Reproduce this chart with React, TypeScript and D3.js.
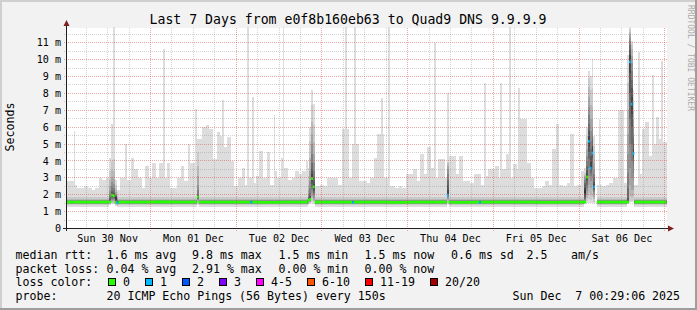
import React from 'react';
import * as d3 from 'd3';

const START = new Date(2025, 10, 30, 0, 29, 6);
const END = new Date(2025, 11, 7, 0, 29, 6);

const yTickValues = [0, 1, 2, 3, 4, 5, 6, 7, 8, 9, 10, 11];
const yTickLabels = ['0', '1 m', '2 m', '3 m', '4 m', '5 m', '6 m', '7 m', '8 m', '9 m', '10 m', '11 m'];
const dayLabels = ['Sun 30 Nov', 'Mon 01 Dec', 'Tue 02 Dec', 'Wed 03 Dec', 'Thu 04 Dec', 'Fri 05 Dec', 'Sat 06 Dec'];
const dayNoons = [
  new Date(2025, 10, 30, 12), new Date(2025, 11, 1, 12), new Date(2025, 11, 2, 12), new Date(2025, 11, 3, 12),
  new Date(2025, 11, 4, 12), new Date(2025, 11, 5, 12), new Date(2025, 11, 6, 12),
];

// hourly maximum ping (top of smoke), ms, hour 0 = start of graph
const hourlyMaxRtt = [
  2.8, 2.8, 2.6, 2.4, 2.4, 2.5, 2.4, 2.3, 2.4, 3.0,
  2.9, 3.0, 4.2, 2.6, 2.3, 3.0, 3.0, 2.9, 4.2, 3.5,
  3.0, 2.4, 3.7, 3.0, 3.9, 3.0, 3.9, 3.0, 3.9, 2.4,
  2.4, 3.0, 3.7, 2.8, 3.9, 3.9, 3.0, 5.3, 6.0, 6.1,
  5.9, 4.1, 5.7, 5.5, 4.8, 5.4, 4.0, 2.5, 3.0, 3.6,
  2.6, 3.0, 2.7, 3.1, 4.6, 3.0, 4.5, 2.6, 3.4, 3.0,
  4.2, 3.6, 2.9, 3.0, 3.4, 3.2, 3.4, 4.0, 3.0, 2.5,
  2.5, 2.6, 2.5, 3.0, 3.0, 3.0, 2.6, 5.9, 5.9, 3.0,
  5.0, 5.0, 2.8, 2.8, 2.7, 3.0, 4.2, 5.6, 5.6, 3.0,
  2.5, 2.5, 2.4, 2.5, 2.4, 3.2, 3.2, 3.5, 2.8, 4.4,
  3.2, 4.8, 3.6, 3.0, 4.1, 4.1, 3.0, 4.3, 4.3, 3.2,
  4.3, 2.8, 2.8, 2.7, 3.2, 3.2, 2.6, 3.1, 3.5, 3.5,
  3.7, 3.0, 3.5, 4.4, 3.0, 3.8, 3.5, 6.5, 6.5, 3.9,
  3.0, 2.4, 2.4, 2.5, 2.8, 2.6, 4.7, 6.2, 2.6, 2.5,
  2.7, 5.6, 2.5, 2.6, 3.4, 3.2, 3.0, 3.0, 2.6, 2.6,
  2.5, 2.6, 2.7, 3.0, 3.0, 7.0, 2.7, 3.0, 3.0, 2.6,
  3.2, 5.9, 6.3, 4.3, 5.0, 6.6, 5.3, 5.1,
];

// short single-sample spikes: hour of sample, max rtt (ms)
const spikeHours = [2.3, 16.5, 27.2, 34.2, 36.3, 43.9, 50.9, 52.3, 58.2, 60.8, 78.1, 80.9, 88.4, 90.2, 103.3, 117.2, 121.7, 124.3, 126.8, 149.3, 154.8, 155.8, 160.4, 164.3, 166.8];
const spikeRtt = [5.8, 5.0, 10.6, 5.0, 7.1, 7.6, 11.9, 7.8, 6.7, 11.9, 11.9, 11.9, 7.7, 11.9, 11.0, 8.6, 8.6, 11.9, 8.3, 6.5, 7.0, 7.0, 10.45, 9.1, 9.9];

// sorted pings 1..19 of a quiet half hour (ms)
const typicalPings = [1.30, 1.38, 1.43, 1.46, 1.48, 1.50, 1.52, 1.53, 1.54, 1.56, 1.57, 1.58, 1.60, 1.62, 1.64, 1.67, 1.71, 1.76, 1.85];

// median per 6 hours (ms)
const sixHourMedian = [
  1.56, 1.56, 1.56, 1.56, 1.57, 1.56, 1.56, 1.56, 1.56, 1.55, 1.56, 1.56, 1.56, 1.56,
  1.56, 1.55, 1.56, 1.56, 1.55, 1.56, 1.56, 1.56, 1.55, 1.56, 1.56, 1.56, 1.56, 1.56,
];

// isolated loss samples
const lossHours = [51.5, 80.0, 115.5];
const lossMedian = [1.53, 1.53, 1.53];
const lossCount = [1, 1, 1];

// disturbed half hours: sorted 20 pings, median, loss
const eventHours = [12.0, 12.5, 13.0, 13.5, 14.0, 36.5, 67.5, 68.0, 68.5, 69.0, 106.5, 145.0, 145.5, 146.0, 146.5, 147.0, 147.5, 157.0, 157.5, 158.0, 158.5];
const eventMedian = [1.58, 1.97, 1.95, 1.55, 1.52, 1.87, 1.67, 1.72, 2.96, 2.46, 1.97, 1.56, 3.05, 5.16, 3.59, 4.47, 2.46, 1.56, 9.86, 7.36, 4.43];
const eventLoss = [0, 0, 0, 0, 1, 0, 0, 0, 0, 0, 1, 0, 0, 1, 1, 1, 1, 0, 1, 1, 1];
const eventPings = [
  [1.40, 1.45, 1.48, 1.50, 1.52, 1.54, 1.56, 1.57, 1.58, 1.58, 1.60, 1.65, 1.72, 1.85, 2.0, 2.2, 2.5, 2.9, 3.4, 4.2],
  [1.45, 1.50, 1.56, 1.62, 1.68, 1.74, 1.80, 1.86, 1.91, 1.96, 1.99, 2.05, 2.15, 2.30, 2.50, 2.75, 3.05, 3.45, 4.0, 6.2],
  [1.45, 1.50, 1.55, 1.60, 1.66, 1.72, 1.78, 1.84, 1.90, 1.94, 1.97, 2.02, 2.10, 2.22, 2.40, 2.65, 2.95, 3.40, 4.10, 11.9],
  [1.35, 1.42, 1.46, 1.49, 1.52, 1.55, 1.58, 1.62, 1.68, 1.75, 1.82, 1.88, 1.92, 1.95, 1.98, 2.05, 2.15, 2.35, 2.6, 2.9],
  [1.30, 1.36, 1.41, 1.44, 1.46, 1.48, 1.50, 1.51, 1.52, 1.53, 1.55, 1.57, 1.60, 1.63, 1.67, 1.72, 1.80, 1.92, 2.15, 2.3],
  [1.42, 1.48, 1.54, 1.60, 1.66, 1.72, 1.77, 1.81, 1.84, 1.86, 1.88, 1.91, 1.96, 2.05, 2.25, 2.6, 3.1, 3.7, 4.5, 5.3],
  [1.40, 1.46, 1.50, 1.53, 1.56, 1.59, 1.61, 1.63, 1.65, 1.67, 1.68, 1.71, 1.75, 1.82, 1.92, 2.05, 2.25, 2.6, 3.1, 3.6],
  [1.45, 1.50, 1.54, 1.58, 1.62, 1.65, 1.68, 1.70, 1.71, 1.72, 1.74, 1.80, 1.90, 2.1, 2.4, 2.8, 3.4, 4.2, 5.2, 6.0],
  [1.50, 1.62, 1.78, 1.95, 2.12, 2.30, 2.48, 2.66, 2.82, 2.94, 3.02, 3.20, 3.50, 3.90, 4.40, 5.0, 5.6, 6.3, 7.3, 8.2],
  [1.48, 1.54, 1.60, 1.70, 1.82, 1.96, 2.10, 2.24, 2.36, 2.45, 2.50, 2.62, 2.80, 3.05, 3.40, 3.85, 4.40, 5.10, 6.1, 7.4],
  [1.42, 1.50, 1.60, 1.70, 1.78, 1.85, 1.90, 1.93, 1.95, 1.96, 2.0, 2.3, 2.6, 2.9, 3.2, 3.5, 3.7, 3.85, 3.94, 8.0],
  [1.45, 1.50, 1.53, 1.56, 1.60, 1.66, 1.74, 1.84, 1.96, 2.10, 2.26, 2.42, 2.58, 2.72, 2.86, 2.98, 3.08, 3.15, 3.3, 3.6],
  [1.50, 1.62, 1.80, 2.00, 2.20, 2.40, 2.60, 2.80, 2.95, 3.05, 3.12, 3.25, 3.45, 3.70, 4.00, 4.30, 4.70, 5.10, 5.5, 6.0],
  [1.52, 1.75, 2.10, 2.60, 3.10, 3.60, 4.10, 4.55, 4.90, 5.15, 5.25, 5.50, 5.80, 6.20, 6.70, 7.20, 7.80, 8.40, 8.9, 9.3],
  [1.52, 1.70, 2.00, 2.40, 2.80, 3.10, 3.30, 3.45, 3.55, 3.60, 3.70, 3.95, 4.30, 4.70, 5.20, 5.80, 6.50, 7.30, 8.2, 9.0],
  [1.52, 1.80, 2.20, 2.60, 3.00, 3.50, 3.90, 4.20, 4.40, 4.48, 4.60, 4.80, 5.00, 5.30, 5.60, 6.00, 6.50, 7.20, 8.3, 10.06],
  [1.50, 1.58, 1.72, 1.88, 2.02, 2.14, 2.26, 2.36, 2.42, 2.46, 2.52, 2.62, 2.78, 2.98, 3.20, 3.50, 3.90, 4.40, 4.9, 5.5],
  [1.45, 1.48, 1.50, 1.52, 1.53, 1.54, 1.55, 1.55, 1.56, 1.56, 1.58, 1.62, 1.80, 2.4, 3.3, 4.4, 5.6, 7.0, 8.6, 10.3],
  [1.55, 1.65, 1.90, 2.60, 3.60, 5.00, 6.50, 8.00, 9.20, 9.80, 9.95, 10.25, 10.55, 10.85, 11.1, 11.3, 11.5, 11.65, 11.8, 11.9],
  [1.55, 1.62, 1.85, 2.25, 3.00, 4.00, 5.00, 6.00, 6.80, 7.30, 7.45, 7.80, 8.30, 8.80, 9.30, 9.80, 10.2, 10.6, 10.9, 11.1],
  [1.58, 1.70, 1.90, 2.30, 2.80, 3.30, 3.80, 4.10, 4.30, 4.42, 4.50, 4.70, 5.00, 5.30, 5.60, 6.00, 6.50, 7.00, 7.6, 8.2],
];
const noDataHours = [148.0];

const lossLabels = ['0', '1', '2', '3', '4-5', '6-10', '11-19', '20/20'];
const lossColors = ['#26ff00', '#00b8ff', '#0059ff', '#7e00ff', '#ff00ff', '#ff5500', '#ff0000', '#a10000'];
const lossUpper = [0, 1, 2, 3, 5, 10, 19, 20];

const FONT = 'DejaVu Sans Mono, monospace';
const HALF_HOUR = 30 * 60 * 1000;

function lossIndex(n: number) {
  const i = lossUpper.findIndex((u) => n <= u);
  return i < 0 ? lossColors.length - 1 : i;
}

type Col = { t0: Date; t1: Date; ok: boolean; pings: number[]; median: number; loss: number };

function buildColumns(): Col[] {
  const n = hourlyMaxRtt.length * 2;
  const cols: Col[] = [];
  for (let j = 0; j < n; j++) {
    const t0 = new Date(START.getTime() + j * HALF_HOUR);
    const t1 = new Date(START.getTime() + (j + 1) * HALF_HOUR);
    const ok = !noDataHours.some((h) => Math.floor(h * 2) === j);
    const ei = eventHours.findIndex((h) => Math.floor(h * 2) === j);
    let pings: number[];
    let median: number;
    let loss = 0;
    if (ei >= 0) {
      pings = eventPings[ei];
      median = eventMedian[ei];
      loss = eventLoss[ei];
    } else {
      let top = hourlyMaxRtt[Math.floor(j / 2)];
      spikeHours.forEach((h, i) => {
        if (Math.floor(h * 2) === j) top = Math.max(top, spikeRtt[i]);
      });
      pings = [...typicalPings, top];
      median = sixHourMedian[Math.floor(j / 12)];
      const li = lossHours.findIndex((h) => Math.floor(h * 2) === j);
      if (li >= 0) {
        median = lossMedian[li];
        loss = lossCount[li];
      }
    }
    cols.push({ t0, t1, ok, pings, median, loss });
  }
  return cols;
}

export default function App() {
  const W = 697;
  const H = 310;
  const x = d3.scaleTime().domain([START, END]).range([66.5, 666.5]);
  const y = d3.scaleLinear().domain([0, 11.84]).range([228.5, 28.5]);
  const cols = buildColumns();
  const snap = (v: number) => Math.round(v - 0.5) + 0.5;

  const bands = d3.range(10).map((k) => {
    const pts: { t: Date; lo: number; hi: number; ok: boolean }[] = [];
    cols.forEach((c) => {
      pts.push({ t: c.t0, lo: c.pings[k], hi: c.pings[19 - k], ok: c.ok });
      pts.push({ t: c.t1, lo: c.pings[k], hi: c.pings[19 - k], ok: c.ok });
    });
    const area = d3
      .area<{ t: Date; lo: number; hi: number; ok: boolean }>()
      .defined((d) => d.ok)
      .x((d) => x(d.t))
      .y0((d) => y(d.lo))
      .y1((d) => y(d.hi));
    const g = Math.floor((190 / 10) * (10 - (k + 1))) + 50;
    return { d: area(pts) || '', color: `rgb(${g},${g},${g})` };
  });

  // median bars, one path per loss colour (horizontal pieces only, like smokeping)
  const medianPaths = lossColors.map((color, ci) => {
    const d = cols
      .filter((c) => c.ok && lossIndex(c.loss) === ci)
      .map((c) => {
        const ym = y(c.median);
        return `M${x(c.t0)},${ym - 1.4}H${x(c.t1)}V${ym + 1.4}H${x(c.t0)}Z`;
      })
      .join('');
    return { color, d };
  });

  const hGrid = d3.range(1, 24).map((i) => i * 0.5).filter((v) => y(v) >= 28);
  const vMinor = d3.timeHour.every(6)!.range(START, END).filter((t) => t.getHours() !== 0);
  const vMajor = d3.timeDay.range(START, END);

  const legendText = { fontFamily: FONT, fontSize: 11.6, fill: '#000', whiteSpace: 'pre' as const };

  const lossBoxX = [108.5, 145.5, 182.5, 219.5, 256.5, 307.5, 365.5, 430.5];

  return (
    <svg width={W} height={H} style={{ position: 'absolute', left: 0, top: 0 }} xmlns="http://www.w3.org/2000/svg">
      <rect x={0} y={0} width={W} height={H} fill="#f2f2f2" />
      <rect x={0} y={0} width={W} height={2} fill="#cfcfcf" />
      <rect x={0} y={0} width={2} height={H} fill="#cfcfcf" />
      <rect x={0} y={H - 2} width={W} height={2} fill="#9e9e9e" />
      <rect x={W - 2} y={0} width={2} height={H} fill="#9e9e9e" />
      <rect x={67} y={28} width={600} height={200} fill="#ffffff" />

      <g shapeRendering="crispEdges">
        {bands.map((b, i) => (
          <path key={i} d={b.d} fill={b.color} />
        ))}
      </g>

      <g>
        {medianPaths.map((m) => (m.d ? <path key={m.color} d={m.d} fill={m.color} /> : null))}
      </g>

      <g shapeRendering="crispEdges">
        {hGrid.map((v) => {
          const major = Number.isInteger(v);
          return (
            <line
              key={`h${v}`}
              x1={64}
              x2={668}
              y1={snap(y(v))}
              y2={snap(y(v))}
              stroke={major ? 'rgba(222,79,79,0.5)' : 'rgba(143,143,143,0.4)'}
              strokeDasharray="1,1"
            />
          );
        })}
        {vMinor.map((t) => (
          <line key={`m${+t}`} x1={snap(x(t))} x2={snap(x(t))} y1={28} y2={230} stroke="rgba(143,143,143,0.4)" strokeDasharray="1,1" />
        ))}
        {vMajor.map((t) => (
          <line key={`M${+t}`} x1={snap(x(t))} x2={snap(x(t))} y1={28} y2={231} stroke="rgba(222,79,79,0.5)" strokeDasharray="1,1" />
        ))}
      </g>

      <g shapeRendering="crispEdges">
        <line x1={63} x2={669} y1={228.5} y2={228.5} stroke="#1f1f1f" />
        <line x1={66.5} x2={66.5} y1={231} y2={24} stroke="#1f1f1f" />
      </g>
      <path d="M63.5,26 L69.5,26 L66.5,20 Z" fill="#801f1f" />
      <path d="M668,225.5 L668,231.5 L674,228.5 Z" fill="#801f1f" />

      {yTickValues.map((v, i) => (
        <text key={v} x={61} y={y(v) + 3.6} textAnchor="end" fontFamily={FONT} fontSize={10.1} fill="#000">
          {yTickLabels[i]}
        </text>
      ))}
      {dayNoons.map((t, i) => (
        <text key={i} x={x(t)} y={242} textAnchor="middle" fontFamily={FONT} fontSize={10.1} fill="#000">
          {dayLabels[i]}
        </text>
      ))}

      <text x={348} y={24} textAnchor="middle" fontFamily={FONT} fontSize={13.2} fill="#000">
        Last 7 Days from e0f8b160eb63 to Quad9 DNS 9.9.9.9
      </text>
      <text transform="translate(13.5,127) rotate(-90)" textAnchor="middle" fontFamily={FONT} fontSize={11.6} fill="#000">
        Seconds
      </text>
      <text transform="translate(688,5) rotate(90)" fontFamily={FONT} fontSize={8} fill="#aaaaaa">
        RRDTOOL / TOBI OETIKER
      </text>

      <text x={15.5} y={258.5} style={legendText}>median rtt:</text>
      <text x={106.5} y={258.5} style={legendText}>1.6 ms avg</text>
      <text x={192} y={258.5} style={legendText}>9.8 ms max</text>
      <text x={278.5} y={258.5} style={legendText}>1.5 ms min</text>
      <text x={364.5} y={258.5} style={legendText}>1.5 ms now</text>
      <text x={451} y={258.5} style={legendText}>0.6 ms sd</text>
      <text x={526.5} y={258.5} style={legendText}>2.5</text>
      <text x={571} y={258.5} style={legendText}>am/s</text>

      <text x={15.5} y={272.5} style={legendText}>packet loss:</text>
      <text x={106.5} y={272.5} style={legendText}>0.04 % avg</text>
      <text x={192} y={272.5} style={legendText}>2.91 % max</text>
      <text x={278.5} y={272.5} style={legendText}>0.00 % min</text>
      <text x={364.5} y={272.5} style={legendText}>0.00 % now</text>

      <text x={15.5} y={286.3} style={legendText}>loss color:</text>
      {lossLabels.map((l, i) => (
        <g key={l}>
          <rect x={lossBoxX[i]} y={278.5} width={7} height={7} fill={lossColors[i]} stroke="#000" shapeRendering="crispEdges" />
          <text x={lossBoxX[i] + 14.5} y={286.3} style={legendText}>{l}</text>
        </g>
      ))}

      <text x={15.5} y={300.2} style={legendText}>probe:</text>
      <text x={106.5} y={300.2} style={legendText}>20 ICMP Echo Pings (56 Bytes) every 150s</text>
      <text x={512.5} y={300.2} style={legendText}>Sun Dec  7 00:29:06 2025</text>
    </svg>
  );
}
